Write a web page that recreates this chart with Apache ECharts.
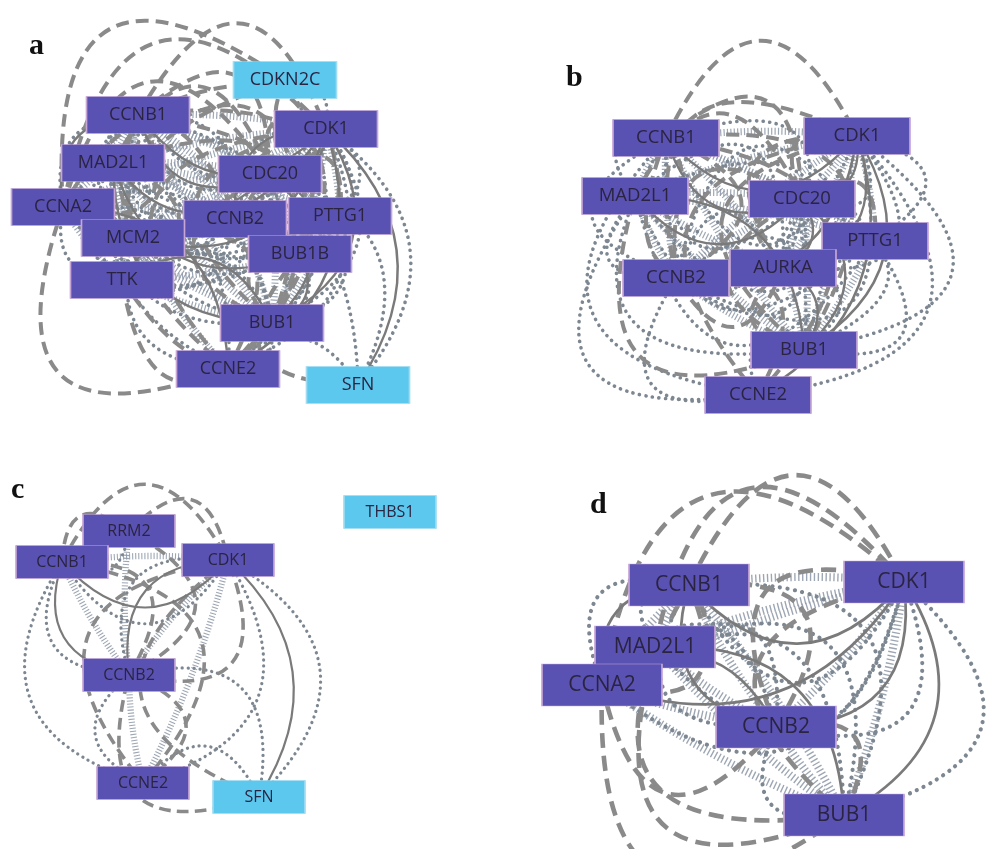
<!DOCTYPE html>
<html>
<head>
<meta charset="utf-8">
<script src="https://cdn.jsdelivr.net/npm/echarts@6/dist/echarts.min.js"></script>
<style>
  html, body { margin: 0; background: #fff; }
  #network { width: 992px; height: 849px; }
</style>
</head>
<body>
<div id="network"></div>
<script>
// ---- panel a ----
const genesA = ["CDKN2C", "CCNB1", "CDK1", "MAD2L1", "CDC20", "CCNA2", "CCNB2", "PTTG1", "MCM2", "BUB1B", "TTK", "BUB1", "CCNE2", "SFN"];
const layoutA = [[285, 80], [138, 115], [326, 129], [113, 163], [270, 174], [63, 207], [235, 219], [340, 216], [133, 238], [300, 254], [122, 280], [272, 323], [228, 369], [358, 385]];
const lightA = ["CDKN2C", "SFN"];
// evidence: e = experiments, c = co-expression, d = databases, t = text mining
const edgesA = [
  ["CCNB1", "CDK1", "ecdt"], ["CCNB1", "MAD2L1", "cdt"], ["CCNB1", "CDC20", "ecdt"], ["CCNB1", "CCNA2", "ecdt"],
  ["CCNB1", "CCNB2", "cdt"], ["CCNB1", "PTTG1", "ct"], ["CCNB1", "MCM2", "ct"], ["CCNB1", "BUB1B", "cdt"],
  ["CCNB1", "TTK", "ct"], ["CCNB1", "BUB1", "cdt"], ["CCNB1", "CCNE2", "dt"],
  ["CDK1", "MAD2L1", "ct"], ["CDK1", "CDC20", "ecdt"], ["CCNA2", "CDK1", "ecdt"], ["CDK1", "CCNB2", "ecdt"],
  ["CDK1", "PTTG1", "ct"], ["MCM2", "CDK1", "ect"], ["CDK1", "BUB1B", "cdt"], ["TTK", "CDK1", "ct"],
  ["CDK1", "BUB1", "ecdt"], ["CCNE2", "CDK1", "edt"], ["CDKN2C", "CDK1", "dt"], ["CDK1", "SFN", "et"],
  ["MAD2L1", "CDC20", "ecdt"], ["MAD2L1", "CCNA2", "ct"], ["MAD2L1", "CCNB2", "ct"], ["MAD2L1", "PTTG1", "ct"],
  ["MAD2L1", "BUB1B", "ecdt"], ["MAD2L1", "TTK", "cdt"], ["MAD2L1", "BUB1", "ecdt"], ["MAD2L1", "MCM2", "ct"],
  ["CCNA2", "CDC20", "cdt"], ["CDC20", "CCNB2", "cdt"], ["CDC20", "PTTG1", "cdt"], ["CDC20", "BUB1B", "ecdt"],
  ["CDC20", "TTK", "ct"], ["CDC20", "BUB1", "ecdt"], ["CDC20", "MCM2", "ct"],
  ["CCNA2", "CCNB2", "cdt"], ["CCNA2", "MCM2", "ct"], ["CCNA2", "BUB1", "ct"], ["CCNE2", "CCNA2", "edt"], ["CCNA2", "TTK", "ct"],
  ["CCNB2", "BUB1B", "ct"], ["CCNB2", "BUB1", "ct"], ["CCNB2", "PTTG1", "ct"], ["TTK", "CCNB2", "ct"],
  ["PTTG1", "BUB1", "ct"], ["PTTG1", "BUB1B", "ct"], ["MCM2", "TTK", "ct"], ["CCNE2", "MCM2", "cdt"], ["MCM2", "BUB1", "ct"],
  ["BUB1B", "TTK", "ecdt"], ["BUB1B", "BUB1", "ecdt"], ["TTK", "BUB1", "ecdt"],
  ["BUB1", "CCNE2", "t"], ["CCNE2", "CDKN2C", "dt"], ["SFN", "CCNE2", "t"], ["CDKN2C", "CCNA2", "d"],
  ["SFN", "CCNB1", "t"], ["SFN", "BUB1B", "d"], ["CDC20", "SFN", "t"]
];

// ---- panel b ----
const genesB = ["CCNB1", "CDK1", "MAD2L1", "CDC20", "PTTG1", "CCNB2", "AURKA", "BUB1", "CCNE2"];
const layoutB = [[170, 138], [361, 136], [139, 196], [306, 199], [379, 241], [180, 278], [287, 268], [308, 350], [262, 395]];
const lightB = [];
const edgesB = [
  ["CCNB1", "CDK1", "ecdt"], ["CCNB1", "MAD2L1", "cdt"], ["CCNB1", "CDC20", "ecdt"], ["CCNB1", "PTTG1", "ct"],
  ["CCNB1", "CCNB2", "cdt"], ["CCNB1", "AURKA", "cdt"], ["CCNB1", "BUB1", "cdt"], ["CCNB1", "CCNE2", "dt"],
  ["CDK1", "MAD2L1", "ct"], ["CDK1", "CDC20", "ecdt"], ["CDK1", "PTTG1", "ct"], ["CDK1", "CCNB2", "ecdt"],
  ["CDK1", "AURKA", "ecdt"], ["CDK1", "BUB1", "ecdt"], ["CCNE2", "CDK1", "edt"],
  ["MAD2L1", "CDC20", "ecdt"], ["MAD2L1", "PTTG1", "ct"], ["MAD2L1", "CCNB2", "ct"], ["MAD2L1", "AURKA", "ct"],
  ["MAD2L1", "BUB1", "ecdt"], ["CDC20", "PTTG1", "cdt"], ["CDC20", "CCNB2", "cdt"], ["CDC20", "AURKA", "ecdt"],
  ["CDC20", "BUB1", "ecdt"], ["PTTG1", "CCNB2", "ct"], ["PTTG1", "AURKA", "ct"], ["PTTG1", "BUB1", "ct"],
  ["CCNB2", "AURKA", "cdt"], ["CCNB2", "BUB1", "ct"], ["CCNE2", "CCNB2", "dt"], ["AURKA", "BUB1", "ecdt"],
  ["BUB1", "CCNE2", "t"], ["MAD2L1", "CCNE2", "t"]
];

// ---- panel c ----
const genesC = ["RRM2", "CCNB1", "CDK1", "THBS1", "CCNB2", "CCNE2", "SFN"];
const layoutC = [[129, 106], [62, 137], [228, 135], [390, 87], [129, 250], [143, 358], [259, 372]];
const lightC = ["THBS1", "SFN"];
const edgesC = [
  ["CCNB1", "CDK1", "ecdt"], ["CCNB1", "RRM2", "dt"], ["RRM2", "CDK1", "d"], ["CCNB1", "CCNB2", "ecdt"],
  ["CCNB2", "CDK1", "ecdt"], ["RRM2", "CCNB2", "cd"], ["CCNB2", "CCNE2", "cdt"], ["CDK1", "SFN", "edt"],
  ["CCNE2", "CCNB1", "dt"], ["CDK1", "CCNE2", "cdt"], ["CCNE2", "SFN", "t"], ["CCNB2", "SFN", "dt"]
];

// ---- panel d ----
const genesD = ["CCNB1", "CDK1", "MAD2L1", "CCNA2", "CCNB2", "BUB1"];
const layoutD = [[193, 160], [408, 157], [159, 222], [106, 260], [280, 302], [348, 390]];
const lightD = [];
const edgesD = [
  ["CCNB1", "CDK1", "ecdt"], ["CCNB1", "MAD2L1", "cdt"], ["CCNB1", "CCNA2", "ecdt"], ["CCNB1", "CCNB2", "ecdt"],
  ["CCNB1", "BUB1", "cdt"], ["CDK1", "MAD2L1", "cdt"], ["CCNA2", "CDK1", "ecdt"], ["CDK1", "CCNB2", "ecdt"],
  ["CDK1", "BUB1", "ecdt"], ["MAD2L1", "CCNA2", "ct"], ["MAD2L1", "CCNB2", "ct"], ["MAD2L1", "BUB1", "ecdt"],
  ["CCNA2", "CCNB2", "ecdt"], ["BUB1", "CCNA2", "cdt"], ["CCNB2", "BUB1", "cdt"]
];

const panelLetters = ["a", "b", "c", "d"];

// ---- drawing ----
// spread: how far dashed (d) and dotted/solid (t) bundles swing out in each panel
const panels = [
  { genes: genesA, layout: layoutA, light: lightA, edges: edgesA, box: [103, 37], font: 18, k: 1, spread: { d: 1.25, t: 0.72 } },
  { genes: genesB, layout: layoutB, light: lightB, edges: edgesB, box: [106, 37], font: 18.5, k: 1, spread: { d: 1.2, t: 1.35 } },
  { genes: genesC, layout: layoutC, light: lightC, edges: edgesC, box: [92, 33], font: 16, k: 0.9, spread: { d: 1.1, t: 0.9 } },
  { genes: genesD, layout: layoutD, light: lightD, edges: edgesD, box: [120, 42], font: 21, k: 1.15, spread: { d: 1.2, t: 1.1 } }
];
const gridBoxes = [
  { left: 0, top: 0 }, { left: 496, top: 0 }, { left: 0, top: 425 }, { left: 496, top: 425 }
];

// bend of each evidence line: [fraction of edge length, max px]
const bend = { c: [0.03, 10], e: [0.28, 55], t: [0.42, 95], d: [0.42, 105] };

function edgeStyle(kind, k) {
  if (kind === "e") return { type: "solid", width: 2.4 * k, color: "#7a7a7a", opacity: 1 };
  if (kind === "c") return { type: [1.2 * k, 2.2 * k], width: 7 * k, color: "#929cab", opacity: 0.9 };
  if (kind === "d") return { type: [13 * k, 7 * k], width: 4 * k, color: "#8a8a8a", opacity: 1 };
  return { type: [0.1, 6.5 * k], width: 3.6 * k, cap: "round", color: "#7d8791", opacity: 1 };
}

const grid = [], xAxis = [], yAxis = [], series = [];
panels.forEach((p, i) => {
  grid.push({ left: gridBoxes[i].left, top: gridBoxes[i].top, width: 496, height: 424 });
  xAxis.push({ gridIndex: i, type: "value", min: 0, max: 496, show: false });
  yAxis.push({ gridIndex: i, type: "value", min: 0, max: 424, inverse: true, show: false });

  const at = {};
  p.genes.forEach((g, j) => { at[g] = p.layout[j]; });
  const linked = p.genes.filter(g => p.edges.some(e => e[0] === g || e[1] === g));
  const cx = linked.reduce((s, g) => s + at[g][0], 0) / linked.length;
  const cy = linked.reduce((s, g) => s + at[g][1], 0) / linked.length;

  const links = [];
  ["c", "t", "d", "e"].forEach(ch => {
    p.edges.forEach(e => {
      if (e[2].indexOf(ch) < 0) return;
      let s = e[0], t = e[1];
      const a = at[s], b = at[t];
      // travel clockwise around the centre so positive bends point outwards
      if ((a[0] - cx) * (b[1] - cy) - (a[1] - cy) * (b[0] - cx) < 0) { s = e[1]; t = e[0]; }
      const len = Math.hypot(b[0] - a[0], b[1] - a[1]);
      const flat = Math.abs(b[0] - a[0]) >= Math.abs(b[1] - a[1]);
      // dashed bundles swing out over top/bottom, dotted and solid out to the sides
      const side = ch === "c" ? 1 : ch === "d" ? (flat ? 1 : -1) : (flat ? -1 : 1);
      const f = ch === "d" ? p.spread.d : ch === "t" ? p.spread.t : 1;
      const apex = Math.min(bend[ch][0] * f * len, bend[ch][1] * f * p.k) * side;
      const st = edgeStyle(ch, p.k);
      st.curveness = 2 * apex / len;
      links.push({ source: s, target: t, lineStyle: st });
    });
  });

  series.push({
    type: "graph",
    coordinateSystem: "cartesian2d",
    xAxisIndex: i,
    yAxisIndex: i,
    symbol: "rect",
    symbolSize: p.box,
    silent: true,
    data: p.genes.map((g, j) => ({
      name: g,
      value: p.layout[j],
      itemStyle: {
        color: p.light.indexOf(g) >= 0 ? "#5cc8ee" : "#5a52b2",
        borderColor: p.light.indexOf(g) >= 0 ? "#9fdcf2" : "#c7a6d6",
        borderWidth: 1
      }
    })),
    links: links,
    label: {
      show: true,
      position: "inside",
      color: "#2a2442",
      fontFamily: "Open Sans",
      fontSize: p.font
    },
    lineStyle: { opacity: 1 }
  });
});

const myChart = echarts.init(document.getElementById("network"));
myChart.setOption({
  animation: false,
  backgroundColor: "#fff",
  grid: grid,
  xAxis: xAxis,
  yAxis: yAxis,
  graphic: [
    { type: "text", left: 29, top: 31, style: { text: panelLetters[0], font: "bold 30px 'Liberation Serif'", fill: "#111" } },
    { type: "text", left: 566, top: 63, style: { text: panelLetters[1], font: "bold 30px 'Liberation Serif'", fill: "#111" } },
    { type: "text", left: 11, top: 475, style: { text: panelLetters[2], font: "bold 30px 'Liberation Serif'", fill: "#111" } },
    { type: "text", left: 590, top: 490, style: { text: panelLetters[3], font: "bold 30px 'Liberation Serif'", fill: "#111" } }
  ],
  series: series
});
</script>
</body>
</html>
